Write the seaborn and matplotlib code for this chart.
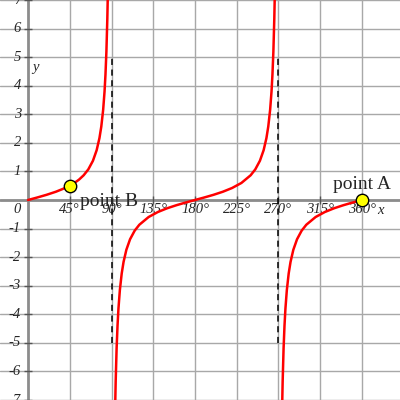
"""Graph of y = tan(x)/2 on 0..360 degrees with two labelled points."""
import matplotlib
matplotlib.use('Agg')
import matplotlib.pyplot as plt
import seaborn as sns

# curve values (degrees, y)
branch1_x = [0, 10, 20, 30, 40, 45, 50, 55, 60, 65, 70, 74, 77, 79, 81, 82.5, 83.5, 84.5, 85.5, 86]
branch1_y = [0, 0.088, 0.182, 0.289, 0.420, 0.5, 0.596, 0.714, 0.866, 1.072, 1.374, 1.744,
             2.166, 2.572, 3.157, 3.798, 4.391, 5.193, 6.353, 7.150]

branch2_x = [94, 94.5, 95.5, 96.5, 97.5, 99, 101, 103, 106, 110, 115, 120, 130, 140, 150, 160, 170,
             180, 190, 200, 210, 220, 230, 240, 245, 250, 254, 257, 259, 261, 262.5, 263.5,
             264.5, 265.5, 266]
branch2_y = [-7.150, -6.353, -5.193, -4.391, -3.798, -3.157, -2.572, -2.166, -1.744, -1.374,
             -1.072, -0.866, -0.596, -0.420, -0.289, -0.182, -0.088,
             0, 0.088, 0.182, 0.289, 0.420, 0.596, 0.866, 1.072, 1.374, 1.744, 2.166, 2.572,
             3.157, 3.798, 4.391, 5.193, 6.353, 7.150]

branch3_x = [274, 274.5, 275.5, 276.5, 277.5, 279, 281, 283, 286, 290, 295, 300, 310, 320, 330,
             340, 350, 360]
branch3_y = [-7.150, -6.353, -5.193, -4.391, -3.798, -3.157, -2.572, -2.166, -1.744, -1.374,
             -1.072, -0.866, -0.596, -0.420, -0.289, -0.182, -0.088, 0]

asymptotes = [90, 270]
point_names = ['point B', 'point A']
point_x = [45, 360]
point_y = [0.5, 0]

x_ticks = [45, 90, 135, 180, 225, 270, 315, 360]
y_ticks = [-7, -6, -5, -4, -3, -2, -1, 1, 2, 3, 4, 5, 6, 7]

sns.set_theme(style='white')
plt.rcParams['font.family'] = ['Liberation Serif', 'DejaVu Serif']

fig = plt.figure(figsize=(4, 4), dpi=100)
ax = fig.add_axes([0, 0, 1, 1])
ax.set_xlim(-30.2, 401)
ax.set_ylim(-7.0, 6.98)
for s in ax.spines.values():
    s.set_visible(False)

# grid
ax.set_xticks(x_ticks)
ax.set_yticks(y_ticks + [0])
ax.grid(True, color='#a8a8a8', lw=1)
ax.tick_params(length=0, labelbottom=False, labelleft=False)
ax.set_axisbelow(True)

# axes through the origin
ax.axhline(0, color='#8c8c8c', lw=2, zorder=1)
ax.axvline(0, color='#8c8c8c', lw=2, zorder=1)
ax.plot(x_ticks, [0] * len(x_ticks), ls='none', marker='|', ms=6, mew=1, color='#555555', zorder=2)
ax.plot([0] * len(y_ticks), y_ticks, ls='none', marker='_', ms=6, mew=1, color='#555555', zorder=2)

for deg in x_ticks:
    ax.text(deg, -0.33, f'{deg}°', ha='center', va='center', style='italic', fontsize=10.5)
for v in y_ticks:
    ax.text(-7.5, v, str(v), ha='right', va='center', style='italic', fontsize=10.5)
ax.text(-11.3, -0.33, '0', ha='center', va='center', style='italic', fontsize=10.5)
ax.text(7.5, 4.64, 'y', ha='center', va='center', style='italic', fontsize=10.5)
ax.text(380, -0.36, 'x', ha='center', va='center', style='italic', fontsize=10.5)

# asymptotes
for a in asymptotes:
    ax.plot([a, a], [-5, 5], color='black', lw=1.1, ls=(0, (4, 3)), zorder=3)

# curve
for bx, by in [(branch1_x, branch1_y), (branch2_x, branch2_y), (branch3_x, branch3_y)]:
    sns.lineplot(x=bx, y=by, ax=ax, color='red', lw=1.8, sort=False, estimator=None, zorder=4)

# labelled points
sns.scatterplot(x=point_x, y=point_y, ax=ax, s=80, color='#ffff00', edgecolor='black',
                linewidth=1, zorder=5)
ax.text(56, -0.22, point_names[0], ha='left', va='baseline', fontsize=14, zorder=6)
ax.text(328.7, 0.37, point_names[1], ha='left', va='baseline', fontsize=14, zorder=6)

fig.savefig('out.png', dpi=100)
plt.close(fig)
